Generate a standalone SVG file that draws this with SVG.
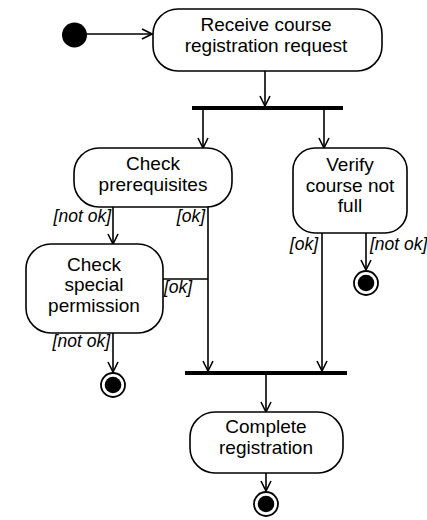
<svg xmlns="http://www.w3.org/2000/svg" width="427" height="520" viewBox="0 0 427 520">
  <style>
    .act { fill: #fff; stroke: #000; stroke-width: 1.6; }
    .lbl { font-family: "Liberation Sans", Arial, sans-serif; font-size: 19px; text-anchor: middle; fill: #000; }
    .grd { font-family: "Liberation Sans", Arial, sans-serif; font-size: 17.5px; font-style: italic; fill: #000; }
    .flow { fill: none; stroke: #000; stroke-width: 1.6; }
    .bar { fill: #000; }
  </style>
  <defs>
    <marker id="open" viewBox="0 0 12 12" refX="11" refY="6" markerWidth="12" markerHeight="12" markerUnits="userSpaceOnUse" orient="auto">
      <path d="M1,1 L11,6 L1,11" fill="none" stroke="#000" stroke-width="1.6"/>
    </marker>
    <g id="final">
      <circle r="12" fill="#fff" stroke="#000" stroke-width="1.8"/>
      <circle r="8.3" fill="#000"/>
    </g>
  </defs>

  <!-- connectors -->
  <g id="connectors">
    <path class="flow" d="M87,34 H152" marker-end="url(#open)"/>
    <path class="flow" d="M265,71 V106" marker-end="url(#open)"/>
    <path class="flow" d="M203,110 V148" marker-end="url(#open)"/>
    <path class="flow" d="M324,110 V148" marker-end="url(#open)"/>
    <path class="flow" d="M113,207 V244" marker-end="url(#open)"/>
    <path class="flow" d="M208,207 V371" marker-end="url(#open)"/>
    <path class="flow" d="M163,279 H208"/>
    <path class="flow" d="M113,333 V372" marker-end="url(#open)"/>
    <path class="flow" d="M322,233 V371" marker-end="url(#open)"/>
    <path class="flow" d="M366,233 V270" marker-end="url(#open)"/>
    <path class="flow" d="M266,375 V412" marker-end="url(#open)"/>
    <path class="flow" d="M266,473 V491" marker-end="url(#open)"/>
    <text class="grd" x="111" y="222" text-anchor="end">[not ok]</text>
    <text class="grd" x="205" y="222" text-anchor="end">[ok]</text>
    <text class="grd" x="164" y="293">[ok]</text>
    <text class="grd" x="110" y="347" text-anchor="end">[not ok]</text>
    <text class="grd" x="318" y="250" text-anchor="end">[ok]</text>
    <text class="grd" x="370" y="250">[not ok]</text>
  </g>

  <g id="start">
    <circle cx="74.5" cy="35" r="12.5" fill="#000"/>
  </g>

  <g id="receive">
    <rect class="act" x="153" y="9" width="229" height="62" rx="25"/>
    <text class="lbl" x="266" y="31">Receive course</text>
    <text class="lbl" x="266" y="52">registration request</text>
  </g>

  <g id="fork">
    <rect class="bar" x="192" y="106" width="151" height="4"/>
  </g>

  <g id="check-prereq">
    <rect class="act" x="74" y="148" width="158" height="59" rx="25"/>
    <text class="lbl" x="153" y="170">Check</text>
    <text class="lbl" x="153" y="191">prerequisites</text>
  </g>

  <g id="verify">
    <rect class="act" x="293" y="148" width="114" height="85" rx="22"/>
    <text class="lbl" x="350" y="171">Verify</text>
    <text class="lbl" x="350" y="192">course not</text>
    <text class="lbl" x="350" y="212">full</text>
  </g>

  <g id="check-special">
    <rect class="act" x="26" y="244" width="137" height="89" rx="25"/>
    <text class="lbl" x="94" y="270.5">Check</text>
    <text class="lbl" x="94" y="291">special</text>
    <text class="lbl" x="94" y="312">permission</text>
  </g>

  <g id="end-special">
    <use href="#final" x="113" y="385"/>
  </g>

  <g id="end-full">
    <use href="#final" x="366" y="283"/>
  </g>

  <g id="join">
    <rect class="bar" x="185" y="371" width="162" height="4"/>
  </g>

  <g id="complete">
    <rect class="act" x="190" y="412" width="153" height="61" rx="25"/>
    <text class="lbl" x="266" y="433">Complete</text>
    <text class="lbl" x="266" y="454">registration</text>
  </g>

  <g id="end-complete">
    <use href="#final" x="266" y="504"/>
  </g>
</svg>
